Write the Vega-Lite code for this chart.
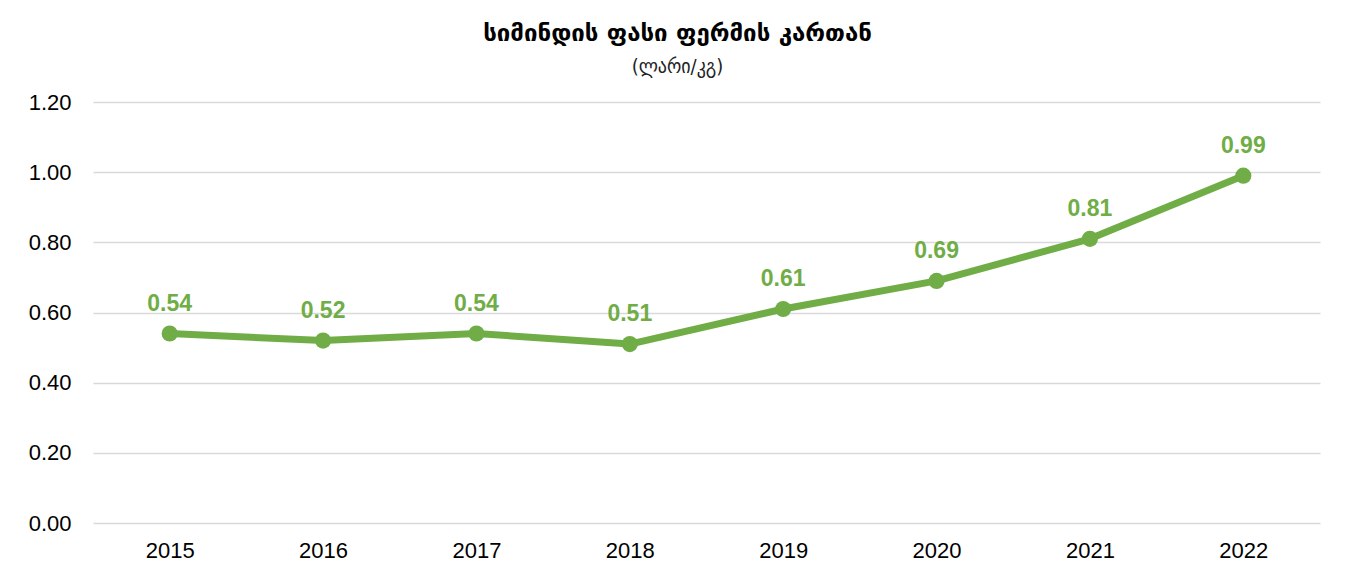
{
  "$schema": "https://vega.github.io/schema/vega-lite/v6.json",
  "autosize": "none",
  "width": 1227,
  "height": 421,
  "padding": {"left": 93, "top": 102, "right": 34, "bottom": 56},
  "background": "white",
  "config": {
    "view": {"stroke": null},
    "font": "Liberation Sans"
  },
  "title": {
    "text": "სიმინდის ფასი ფერმის კართან",
    "subtitle": "(ლარი/კგ)",
    "font": "DejaVu Sans",
    "subtitleFont": "DejaVu Sans Condensed",
    "fontSize": 24,
    "fontWeight": "bold",
    "subtitleFontSize": 20,
    "subtitleFontWeight": "normal",
    "color": "black",
    "subtitleColor": "#222222",
    "anchor": "middle",
    "dx": -29,
    "offset": 14,
    "subtitlePadding": 11
  },
  "data": {
    "values": [
      {"year": "2015", "price": 0.54},
      {"year": "2016", "price": 0.52},
      {"year": "2017", "price": 0.54},
      {"year": "2018", "price": 0.51},
      {"year": "2019", "price": 0.61},
      {"year": "2020", "price": 0.69},
      {"year": "2021", "price": 0.81},
      {"year": "2022", "price": 0.99}
    ]
  },
  "encoding": {
    "x": {
      "field": "year",
      "type": "ordinal",
      "scale": {"type": "point", "padding": 0.5},
      "axis": {
        "title": null,
        "labelAngle": 0,
        "domain": false,
        "ticks": false,
        "labelFontSize": 22,
        "labelColor": "black",
        "labelPadding": 17
      }
    },
    "y": {
      "field": "price",
      "type": "quantitative",
      "scale": {"domain": [0, 1.2], "nice": false},
      "axis": {
        "title": null,
        "values": [0, 0.2, 0.4, 0.6, 0.8, 1.0, 1.2],
        "format": ".2f",
        "domain": false,
        "ticks": false,
        "gridColor": "#d9d9d9",
        "gridWidth": 1.5,
        "labelFontSize": 22,
        "labelColor": "black",
        "labelPadding": 22
      }
    }
  },
  "layer": [
    {
      "mark": {"type": "line", "color": "#70AD47", "strokeWidth": 7, "strokeCap": "round", "strokeJoin": "round"}
    },
    {
      "mark": {"type": "point", "filled": true, "color": "#70AD47", "size": 260, "opacity": 1}
    },
    {
      "mark": {"type": "text", "color": "#70AD47", "fontWeight": "bold", "fontSize": 23, "dy": -30},
      "encoding": {"text": {"field": "price", "type": "quantitative", "format": ".2f"}}
    }
  ]
}
